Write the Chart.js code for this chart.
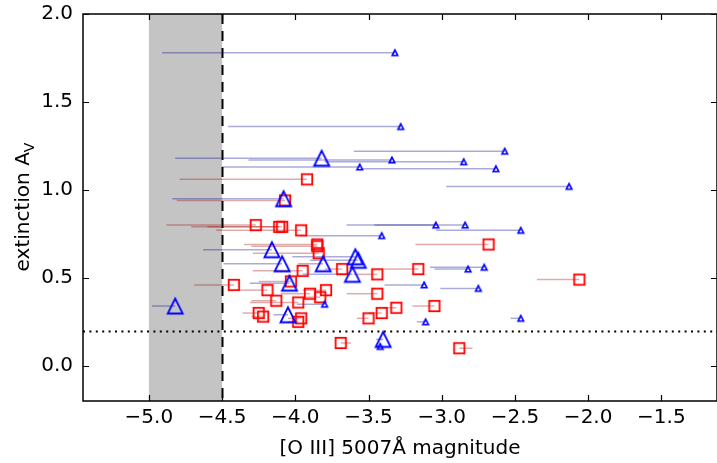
<!DOCTYPE html>
<html>
<head>
<meta charset="utf-8">
<script src="https://cdn.jsdelivr.net/npm/chart.js@4/dist/chart.umd.min.js"></script>
<style>
  html, body { margin: 0; padding: 0; background: #fff; overflow: hidden; }
  canvas { display: block; }
</style>
</head>
<body>
<canvas id="chart" width="717" height="463"></canvas>
<script>
// small blue triangles: magnitude, extinction, other end of the horizontal bar
var triX    = [-3.32, -3.28, -2.57, -3.34, -2.85, -3.56, -2.63, -2.13, -3.04, -2.84, -2.46, -3.41, -2.82, -2.71, -3.12, -2.75, -3.80, -3.11, -2.46, -3.42];
var triY    = [ 1.78,  1.36,  1.22,  1.17,  1.16,  1.13,  1.12,  1.02,  0.80,  0.80,  0.77,  0.74,  0.55,  0.56,  0.46,  0.44,  0.35,  0.25,  0.27,  0.11];
var triFrom = [-4.91, -4.46, -3.60, -4.32, -3.80, -4.50, -3.55, -2.97, -3.65, -3.46, -3.04, -3.97, -3.05, -3.08, -3.39, -3.01, -3.99, -3.17, -2.53, -3.45];

// large blue triangles
var bigX    = [-3.82, -4.08, -3.59, -3.57, -3.61, -4.16, -4.09, -3.81, -4.04, -4.82, -4.05, -3.40];
var bigY    = [ 1.18,  0.95,  0.62,  0.60,  0.52,  0.66,  0.58,  0.58,  0.47,  0.34,  0.29,  0.15];
var bigFrom = [-4.82, -4.84, -4.02, -3.90, -3.95, -4.63, -4.49, -3.98, -4.31, -4.98, -4.15, -3.45];

// red squares
var sqX    = [-3.92, -4.07, -4.27, -4.11, -4.09, -3.96, -2.68, -3.85, -3.85, -3.84, -3.95, -3.68, -3.44, -3.16, -2.06, -4.42, -4.03,
              -4.19, -3.79, -3.90, -3.44, -3.83, -4.13, -3.98, -3.05, -3.31, -3.41, -3.50, -4.25, -4.22, -3.96, -3.98, -3.69, -2.88];
var sqY    = [ 1.06,  0.94,  0.80,  0.79,  0.79,  0.77,  0.69,  0.69,  0.68,  0.64,  0.54,  0.55,  0.52,  0.55,  0.49,  0.46,  0.48,
               0.43,  0.43,  0.41,  0.41,  0.39,  0.37,  0.36,  0.34,  0.33,  0.30,  0.27,  0.30,  0.28,  0.27,  0.25,  0.13,  0.10];
var sqFrom = [-4.79, -4.81, -4.88, -4.71, -4.60, -4.54, -3.18, -4.35, -4.30, -4.29, -4.29, -3.80, -3.60, -3.40, -2.35, -4.69, -4.25,
              -4.40, -3.95, -4.10, -3.65, -3.95, -4.30, -4.31, -3.20, -3.40, -3.50, -3.58, -4.36, -4.30, -4.05, -4.05, -3.62, -2.79];

var xTicks = [-5.0, -4.5, -4.0, -3.5, -3.0, -2.5, -2.0, -1.5];
var yTicks = [0.0, 0.5, 1.0, 1.5, 2.0];
var bandFrom = -5.0, bandTo = -4.5;   // shaded range, dashed edge at bandTo
var avCut = 0.2;                      // dotted horizontal line

var FONT = "'DejaVu Sans', sans-serif";

function fmt(v) {
    var s = Math.abs(v).toFixed(1);
    return v < 0 ? '\u2212' + s : s;
}

function triMarker(half, lw, color) {
    var s = 2 * Math.ceil(half + lw + 1);
    var c = document.createElement('canvas');
    c.width = c.height = s;
    var g = c.getContext('2d');
    var m = s / 2;
    g.strokeStyle = color;
    g.lineWidth = lw;
    g.lineJoin = 'miter';
    g.beginPath();
    g.moveTo(m, m - half);
    g.lineTo(m - half, m + half);
    g.lineTo(m + half, m + half);
    g.closePath();
    g.stroke();
    return c;
}

function sqMarker(half, lw, color) {
    var s = 2 * Math.ceil(half + lw + 1);
    var c = document.createElement('canvas');
    c.width = c.height = s;
    var g = c.getContext('2d');
    var m = s / 2;
    g.strokeStyle = color;
    g.lineWidth = lw;
    g.strokeRect(m - half, m - half, 2 * half, 2 * half);
    return c;
}

function points(xs, ys) {
    return xs.map(function (v, i) { return {x: v, y: ys[i]}; });
}

var datasets = [];

datasets.push({
    data: points(triX, triY),
    pointStyle: triMarker(2.8, 1.6, '#0000ff'),
    pointRadius: 4,
    showLine: false,
    order: 0
});
datasets.push({
    data: points(bigX, bigY),
    pointStyle: triMarker(7.5, 1.8, '#0000ff'),
    pointRadius: 8,
    showLine: false,
    order: 0
});
datasets.push({
    data: points(sqX, sqY),
    pointStyle: sqMarker(5.2, 1.8, '#ff0000'),
    pointRadius: 6,
    showLine: false,
    order: 1
});

// horizontal bars, one small dataset per object
function addBars(xs, ys, from, color) {
    xs.forEach(function (v, i) {
        datasets.push({
            data: [{x: from[i], y: ys[i]}, {x: v, y: ys[i]}],
            showLine: true,
            borderColor: color,
            borderWidth: 1.5,
            pointRadius: 0,
            order: 2
        });
    });
}
addBars(triX, triY, triFrom, 'rgba(0,0,140,0.33)');
addBars(bigX, bigY, bigFrom, 'rgba(0,0,140,0.33)');
addBars(sqX, sqY, sqFrom, 'rgba(160,0,0,0.33)');

var decor = {
    id: 'decor',
    beforeDatasetsDraw: function (chart) {
        var ctx = chart.ctx, a = chart.chartArea, x = chart.scales.x;
        var x0 = x.getPixelForValue(bandFrom), x1 = x.getPixelForValue(bandTo);
        ctx.save();
        ctx.fillStyle = '#c4c4c4';
        ctx.fillRect(x0, a.top, x1 - x0, a.bottom - a.top);
        ctx.restore();
    },
    afterDatasetsDraw: function (chart) {
        var ctx = chart.ctx, a = chart.chartArea;
        var x = chart.scales.x, y = chart.scales.y;
        ctx.save();
        ctx.strokeStyle = '#000';

        // dashed edge of the band
        var xd = Math.round(x.getPixelForValue(bandTo)) + 0.5;
        ctx.lineWidth = 2;
        ctx.setLineDash([10, 7]);
        ctx.beginPath();
        ctx.moveTo(xd, a.top);
        ctx.lineTo(xd, a.bottom);
        ctx.stroke();

        // dotted A_V cut
        var yd = Math.round(y.getPixelForValue(avCut)) + 0.5;
        ctx.setLineDash([2, 4.4]);
        ctx.beginPath();
        ctx.moveTo(a.left, yd);
        ctx.lineTo(a.right, yd);
        ctx.stroke();
        ctx.setLineDash([]);

        // frame
        ctx.lineWidth = 1.5;
        ctx.strokeRect(a.left, a.top, a.right - a.left, a.bottom - a.top);

        // inward ticks on all sides
        ctx.lineWidth = 1.2;
        ctx.beginPath();
        xTicks.forEach(function (v) {
            var p = Math.round(x.getPixelForValue(v)) + 0.5;
            ctx.moveTo(p, a.bottom); ctx.lineTo(p, a.bottom - 6);
            ctx.moveTo(p, a.top); ctx.lineTo(p, a.top + 6);
        });
        yTicks.forEach(function (v) {
            var p = Math.round(y.getPixelForValue(v)) + 0.5;
            ctx.moveTo(a.left, p); ctx.lineTo(a.left + 6, p);
            ctx.moveTo(a.right, p); ctx.lineTo(a.right - 6, p);
        });
        ctx.stroke();

        // axis titles
        ctx.fillStyle = '#000';
        ctx.font = '20px ' + FONT;
        ctx.textAlign = 'center';
        ctx.textBaseline = 'middle';
        ctx.fillText('[O III] 5007\u00c5 magnitude', (a.left + a.right) / 2, 449);

        ctx.translate(24, 207);
        ctx.rotate(-Math.PI / 2);
        ctx.textAlign = 'left';
        var main = 'extinction A';
        ctx.font = '20px ' + FONT;
        var w1 = ctx.measureText(main).width;
        ctx.font = '14px ' + FONT;
        var w2 = ctx.measureText('V').width;
        var sx = -(w1 + w2) / 2;
        ctx.font = '20px ' + FONT;
        ctx.fillText(main, sx, 0);
        ctx.font = '14px ' + FONT;
        ctx.fillText('V', sx + w1, 6);
        ctx.restore();
    }
};

var myChart = new Chart(document.getElementById('chart'), {
    type: 'scatter',
    data: { datasets: datasets },
    options: {
        responsive: false,
        devicePixelRatio: 1,
        animation: false,
        events: [],
        layout: { autoPadding: false, padding: { top: 14, right: 0, left: 0, bottom: 0 } },
        plugins: { legend: { display: false }, tooltip: { enabled: false } },
        scales: {
            x: {
                type: 'linear',
                min: -5.45,
                max: -1.12,
                grid: { display: false, drawTicks: false },
                border: { display: false },
                afterBuildTicks: function (s) { s.ticks = xTicks.map(function (v) { return {value: v}; }); },
                afterFit: function (s) { s.height = 62; s.paddingLeft = 0; s.paddingRight = 0; },
                ticks: {
                    padding: 5,
                    color: '#000',
                    maxRotation: 0,
                    font: { family: FONT, size: 20 },
                    callback: function (v) { return fmt(v); }
                }
            },
            y: {
                type: 'linear',
                min: -0.2,
                max: 2.0,
                grid: { display: false, drawTicks: false },
                border: { display: false },
                afterBuildTicks: function (s) { s.ticks = yTicks.map(function (v) { return {value: v}; }); },
                afterFit: function (s) { s.width = 83; s.paddingTop = 0; s.paddingBottom = 0; },
                ticks: {
                    padding: 10,
                    color: '#000',
                    font: { family: FONT, size: 20 },
                    callback: function (v) { return fmt(v); }
                }
            }
        }
    },
    plugins: [decor]
});
</script>
</body>
</html>
